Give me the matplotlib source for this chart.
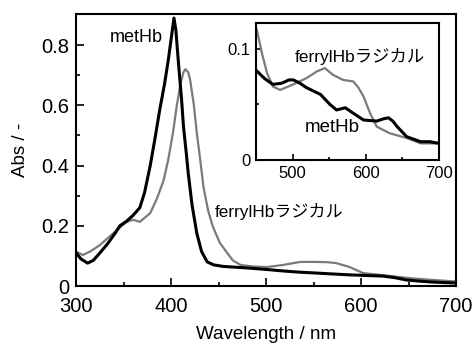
import matplotlib
matplotlib.use("Agg")
import matplotlib.pyplot as plt
import numpy as np

plt.rcParams['font.family'] = ['Liberation Sans', 'Noto Sans CJK JP', 'DejaVu Sans']

# Main panel data
met_x = [300, 305, 312, 318, 325, 333, 341, 346, 353, 360, 367, 372, 378, 383, 388, 393, 397, 400, 403, 405, 408, 411, 413, 416, 418, 422, 427, 432, 438, 445, 455, 465, 480, 500, 518, 535, 553, 570, 588, 605, 623, 635, 648, 662, 676, 690, 700]
met_y = [0.11, 0.09, 0.076, 0.085, 0.11, 0.14, 0.175, 0.20, 0.215, 0.235, 0.26, 0.31, 0.40, 0.49, 0.585, 0.67, 0.75, 0.82, 0.89, 0.85, 0.73, 0.62, 0.53, 0.44, 0.375, 0.27, 0.176, 0.115, 0.08, 0.07, 0.065, 0.063, 0.06, 0.055, 0.05, 0.046, 0.043, 0.04, 0.037, 0.035, 0.033, 0.028, 0.02, 0.016, 0.013, 0.011, 0.01]
fer_x = [300, 307, 315, 325, 339, 353, 360, 367, 378, 385, 392, 397, 402, 406, 410, 413, 415, 418, 420, 424, 427, 431, 434, 439, 444, 451, 459, 465, 473, 485, 501, 518, 536, 553, 565, 574, 588, 602, 623, 652, 676, 700]
fer_y = [0.114, 0.103, 0.115, 0.136, 0.175, 0.213, 0.22, 0.213, 0.242, 0.29, 0.35, 0.42, 0.51, 0.60, 0.674, 0.71, 0.72, 0.71, 0.685, 0.60, 0.51, 0.41, 0.33, 0.25, 0.197, 0.145, 0.11, 0.085, 0.07, 0.065, 0.063, 0.07, 0.08, 0.08, 0.079, 0.076, 0.063, 0.043, 0.036, 0.026, 0.02, 0.015]

# Inset data
in_met_x = [451, 462, 473, 485, 495, 501, 510, 519, 538, 551, 560, 566, 572, 583, 597, 615, 624, 631, 637, 643, 656, 675, 688, 700]
in_met_y = [0.080, 0.073, 0.068, 0.069, 0.072, 0.072, 0.069, 0.065, 0.059, 0.050, 0.045, 0.046, 0.047, 0.042, 0.036, 0.035, 0.037, 0.038, 0.035, 0.030, 0.021, 0.0165, 0.0165, 0.015]
in_fer_x = [451, 455, 458, 465, 473, 483, 501, 519, 533, 544, 555, 569, 583, 590, 597, 606, 615, 633, 656, 675, 700]
in_fer_y = [0.117, 0.105, 0.096, 0.078, 0.066, 0.063, 0.068, 0.0736, 0.0796, 0.0826, 0.0766, 0.072, 0.0706, 0.065, 0.057, 0.042, 0.030, 0.024, 0.0198, 0.015, 0.015]

fig = plt.figure(figsize=(4.76, 3.45), dpi=100)
ax = fig.add_axes([0.16, 0.171, 0.798, 0.788])
ax.plot(fer_x, fer_y, color='#7a7a7a', lw=1.6)
ax.plot(met_x, met_y, color='black', lw=2.2)
ax.set_xlim(300, 700)
ax.set_ylim(0, 0.903)
ax.set_xticks([300, 400, 500, 600, 700])
ax.set_xticks([350, 450, 550, 650], minor=True)
ax.set_yticks([0, 0.2, 0.4, 0.6, 0.8])
ax.set_yticklabels(['0', '0.2', '0.4', '0.6', '0.8'])
ax.set_yticks([0.1, 0.3, 0.5, 0.7], minor=True)
ax.tick_params(which='both', direction='in', labelsize=14.5, width=1.2)
ax.tick_params(which='major', length=6)
ax.tick_params(axis='x', which='major', pad=8)
ax.tick_params(axis='y', which='major', pad=5)
ax.tick_params(which='minor', length=3)
for s in ax.spines.values():
    s.set_linewidth(1.5)
ax.set_xlabel('Wavelength / nm', fontsize=13.5, labelpad=7)
ax.set_ylabel('Abs / -', fontsize=13.5, labelpad=9)
ax.text(363, 0.824, 'metHb', fontsize=13, ha='center', va='center')
ax.text(446, 0.246, 'ferrylHbラジカル', fontsize=12.3, ha='left', va='center')

ins = fig.add_axes([0.538, 0.536, 0.384, 0.397])
ins.plot(in_fer_x, in_fer_y, color='#7a7a7a', lw=1.6)
ins.plot(in_met_x, in_met_y, color='black', lw=2.2)
ins.set_xlim(450, 700)
ins.set_ylim(0, 0.123)
ins.set_xticks([500, 600, 700])
ins.set_xticks([550, 650], minor=True)
ins.set_yticks([0, 0.1])
ins.set_yticklabels(['0', '0.1'])
ins.set_yticks([0.05], minor=True)
ins.tick_params(which='both', direction='in', labelsize=12, width=1.2)
ins.tick_params(which='major', length=4, pad=4)
ins.tick_params(which='minor', length=2)
for s in ins.spines.values():
    s.set_linewidth(1.5)
ins.text(503, 0.0928, 'ferrylHbラジカル', fontsize=12.5, ha='left', va='center')
ins.text(517, 0.029, 'metHb', fontsize=13.5, ha='left', va='center')

fig.savefig('out.png', dpi=100)
